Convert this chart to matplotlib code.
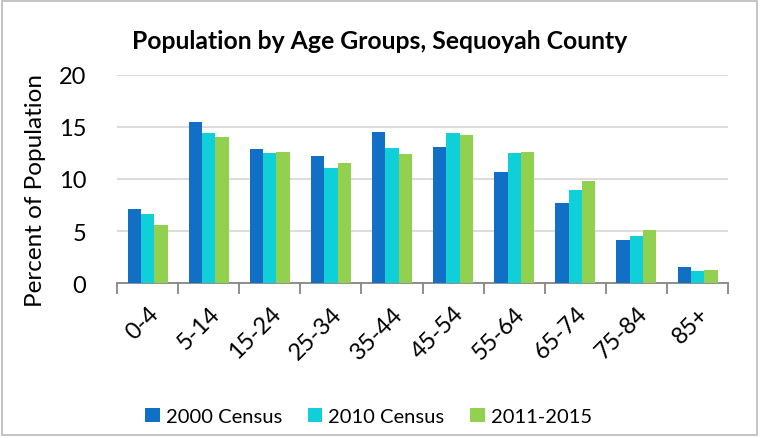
import numpy as np
import matplotlib.pyplot as plt
from matplotlib.patches import Rectangle

plt.rcParams['font.family'] = ['Lato', 'DejaVu Sans']

age_groups = ['0-4', '5-14', '15-24', '25-34', '35-44',
              '45-54', '55-64', '65-74', '75-84', '85+']
census_2000 = [7.1, 15.5, 12.9, 12.2, 14.5, 13.1, 10.7, 7.7, 4.1, 1.5]
census_2010 = [6.6, 14.4, 12.5, 11.1, 13.0, 14.4, 12.5, 8.9, 4.5, 1.2]
acs_2011_2015 = [5.6, 14.0, 12.6, 11.5, 12.4, 14.2, 12.6, 9.8, 5.1, 1.3]

series = [('2000 Census', census_2000, '#1170C6'),
          ('2010 Census', census_2010, '#0FCFD8'),
          ('2011-2015', acs_2011_2015, '#92D050')]

fig = plt.figure(figsize=(7.6, 4.39), dpi=100)
ax = fig.add_axes([0.154, 0.353, 0.804, 0.474])

x = np.arange(len(age_groups))
w = 0.218
for i, (name, vals, col) in enumerate(series):
    ax.bar(x + (i - 1) * w, vals, w, color=col, label=name, zorder=3)

ax.set_xlim(-0.5, len(age_groups) - 0.5)
ax.set_ylim(0, 20)
ax.set_yticks([0, 5, 10, 15, 20])
ax.grid(axis='y', color='#D9D9D9', linewidth=1.3, zorder=0)
ax.tick_params(axis='y', length=0, labelsize=17, pad=22)

ax.set_xticks(x)
ax.set_xticklabels(age_groups, rotation=45, ha='right', rotation_mode='anchor',
                   fontsize=17)
ax.set_xticks(np.arange(-0.5, len(age_groups)), minor=True)
ax.tick_params(axis='x', which='major', length=0, pad=14)
ax.tick_params(axis='x', which='minor', length=8, width=1.3, color='#868686')

for s in ['top', 'right', 'left']:
    ax.spines[s].set_visible(False)
ax.spines['bottom'].set_color('#868686')
ax.spines['bottom'].set_linewidth(1.3)

ax.set_ylabel('Percent of Population', fontsize=17.5)
ax.yaxis.set_label_coords(-0.117, 0.45)
fig.text(0.5, 0.905, 'Population by Age Groups, Sequoyah County',
         ha='center', va='center', fontsize=17.8, fontweight='bold')

fig.legend(loc='center', bbox_to_anchor=(0.485, 0.05), ncol=3, frameon=False,
           fontsize=14.5, handlelength=0.7, handleheight=0.7, handletextpad=0.3,
           columnspacing=1.3)

fig.patches.append(Rectangle((0.003, 0.006), 0.993, 0.99, transform=fig.transFigure,
                             fill=False, edgecolor='#BFBFBF', linewidth=1.3))

fig.savefig('out.png', dpi=100, facecolor='white')
